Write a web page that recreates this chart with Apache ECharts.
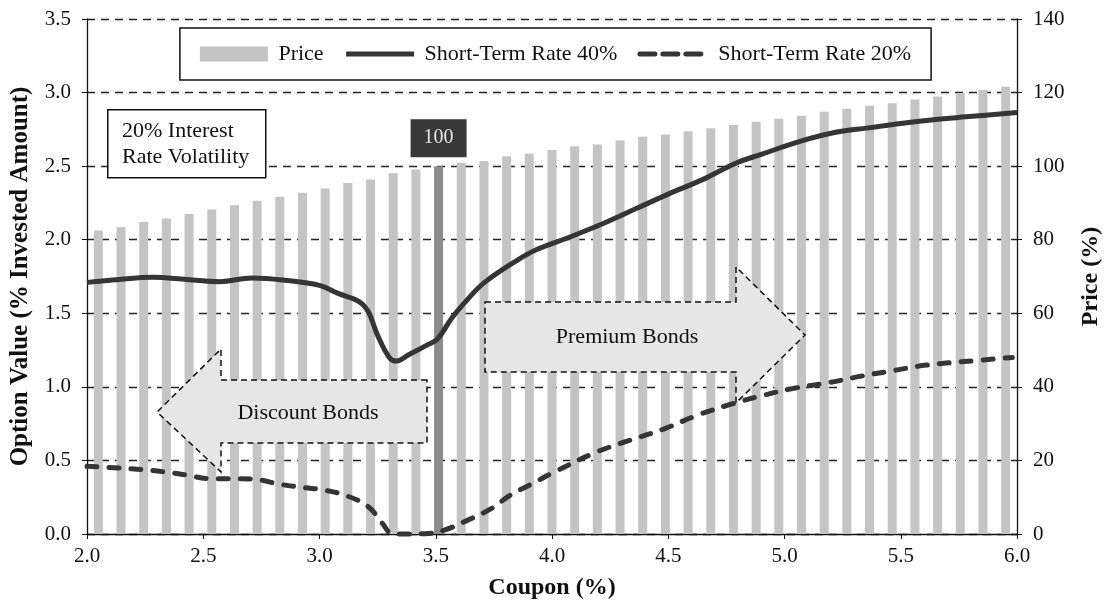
<!DOCTYPE html>
<html><head><meta charset="utf-8">
<script src="https://cdn.jsdelivr.net/npm/echarts@6/dist/echarts.min.js"></script>
<style>html,body{margin:0;padding:0;background:#fff}#c{width:1111px;height:605px}</style>
</head><body><div id="c"></div>
<script>
// ---- data ----
const categories = ['2.0','2.1','2.2','2.3','2.4','2.5','2.6','2.7','2.8','2.9','3.0','3.1','3.2','3.3','3.4','3.5','3.6','3.7','3.8','3.9','4.0','4.1','4.2','4.3','4.4','4.5','4.6','4.7','4.8','4.9','5.0','5.1','5.2','5.3','5.4','5.5','5.6','5.7','5.8','5.9','6.0'];
const price = [82.5,83.4,84.8,85.8,87.0,88.2,89.4,90.6,91.6,92.8,93.9,95.4,96.4,98.1,99.1,100,100.9,101.4,102.7,103.4,104.4,105.4,105.9,107.0,108.0,108.6,109.5,110.3,111.2,112.1,112.9,113.7,114.8,115.6,116.4,117.1,118.1,118.9,119.8,120.7,121.6];
const coupon40 = [2.00,2.14,2.28,2.43,2.57,2.71,2.85,3.00,3.08,3.17,3.21,3.25,3.30,3.33,3.38,3.47,3.51,3.57,3.64,3.71,3.85,3.93,4.08,4.22,4.36,4.50,4.65,4.79,4.90,5.07,5.22,5.36,5.50,5.64,5.78,6.00];
const rate40 = [1.71,1.73,1.745,1.73,1.715,1.74,1.725,1.69,1.635,1.58,1.51,1.35,1.20,1.175,1.215,1.29,1.33,1.47,1.60,1.71,1.86,1.93,2.02,2.11,2.21,2.31,2.41,2.52,2.58,2.67,2.73,2.76,2.79,2.815,2.835,2.865];
const coupon20 = [2.00,2.14,2.24,2.34,2.43,2.53,2.63,2.73,2.83,2.93,3.02,3.12,3.21,3.27,3.31,3.37,3.47,3.54,3.64,3.74,3.82,3.91,4.01,4.19,4.33,4.48,4.62,4.77,4.90,5.04,5.19,5.33,5.47,5.61,5.76,5.98];
const rate20 = [0.46,0.448,0.437,0.421,0.40,0.376,0.376,0.37,0.338,0.316,0.298,0.258,0.185,0.073,0.005,0.0,0.003,0.028,0.096,0.174,0.264,0.338,0.421,0.556,0.635,0.713,0.804,0.882,0.939,0.99,1.028,1.073,1.111,1.148,1.17,1.20];
const seriesNames = ['Price','Short-Term Rate 40%','Short-Term Rate 20%'];
const parPrice = 100;

// ---- chart ----
const FONT = 'Liberation Serif, Times New Roman, serif';
const chart = echarts.init(document.getElementById('c'), null, {renderer:'canvas'});
const parIndex = price.indexOf(parPrice);

const option = {
  animation: false,
  backgroundColor: '#fff',
  textStyle: {fontFamily: FONT, color: '#111'},
  grid: {left: 87, right: 88, top: 19, bottom: 68, containLabel: false},
  legend: {
    data: [
      {name: seriesNames[0], icon: 'rect'},
      {name: seriesNames[1], itemStyle: {opacity: 0}, lineStyle: {width: 5, color: '#353535'}},
      {name: seriesNames[2], itemStyle: {opacity: 0}, lineStyle: {width: 5, color: '#353535', type: [15, 8], cap: 'round'}}
    ],
    top: 28, left: 'center',
    itemWidth: 68, itemHeight: 15, itemGap: 20,
    padding: [15, 20],
    borderColor: '#111', borderWidth: 1.5, backgroundColor: '#fff',
    formatter: n => ' ' + n,
    textStyle: {fontFamily: FONT, fontSize: 22, color: '#111'}
  },
  xAxis: [
    {type: 'value', min: 2, max: 6, interval: 0.5, position: 'bottom',
     name: 'Coupon (%)', nameLocation: 'middle', nameGap: 42,
     nameTextStyle: {fontFamily: FONT, fontSize: 24, fontWeight: 'bold', color: '#111'},
     axisLine: {show: true, lineStyle: {color: '#111', width: 1.3}},
     axisTick: {show: true, inside: false, length: 5, lineStyle: {color: '#111'}},
     axisLabel: {fontFamily: FONT, fontSize: 21, color: '#111', margin: 12, formatter: v => v.toFixed(1)},
     splitLine: {show: false}},
    {type: 'category', data: categories, boundaryGap: true, show: false,
     axisLine: {show: false}, axisTick: {show: false}, axisLabel: {show: false}, splitLine: {show: false}}
  ],
  yAxis: [
    {type: 'value', min: 0, max: 3.5, interval: 0.5, position: 'left',
     name: 'Option Value (% Invested Amount)', nameLocation: 'middle', nameGap: 54, nameRotate: 90,
     nameTextStyle: {fontFamily: FONT, fontSize: 25, fontWeight: 'bold', color: '#111'},
     axisLine: {show: true, lineStyle: {color: '#111', width: 1.3}},
     axisTick: {show: true, length: 5, lineStyle: {color: '#111'}},
     axisLabel: {fontFamily: FONT, fontSize: 21, color: '#111', margin: 16, formatter: v => v.toFixed(1)},
     splitLine: {show: true, lineStyle: {color: '#222', width: 1.3, type: [8, 6]}}},
    {type: 'value', min: 0, max: 140, interval: 20, position: 'right',
     name: 'Price (%)', nameLocation: 'middle', nameGap: 62, nameRotate: 90,
     nameTextStyle: {fontFamily: FONT, fontSize: 24, fontWeight: 'bold', color: '#111'},
     axisLine: {show: true, lineStyle: {color: '#111', width: 1.3}},
     axisTick: {show: true, length: 5, lineStyle: {color: '#111'}},
     axisLabel: {fontFamily: FONT, fontSize: 21, color: '#111', margin: 16},
     splitLine: {show: false}}
  ],
  series: [
    {name: seriesNames[0], type: 'bar', xAxisIndex: 1, yAxisIndex: 1, barWidth: 9, z: 2,
     itemStyle: {color: '#c4c4c4'},
     data: price.map((p, i) => i === parIndex ? {
       value: p,
       itemStyle: {color: '#8c8c8c'},
       label: {show: true, position: 'top', distance: 9, formatter: '{c}',
               fontFamily: FONT, fontSize: 20, color: '#e6e6e6',
               backgroundColor: '#383838', padding: [9, 13]}
     } : p)},
    {name: seriesNames[1], type: 'line', xAxisIndex: 0, yAxisIndex: 0, z: 5, clip: false,
     symbol: 'none', smooth: 0.4,
     lineStyle: {color: '#353535', width: 5},
     itemStyle: {color: '#353535'},
     data: coupon40.map((c, i) => [c, rate40[i]])},
    {name: seriesNames[2], type: 'line', xAxisIndex: 0, yAxisIndex: 0, z: 5, clip: false,
     symbol: 'none', smooth: 0.4,
     lineStyle: {color: '#353535', width: 5, type: [10, 12], cap: 'round'},
     itemStyle: {color: '#353535'},
     data: coupon20.map((c, i) => [c, rate20[i]])}
  ],
  graphic: [
    {type: 'rect', left: 107, top: 109, z: 10,
     shape: {width: 158, height: 68},
     style: {fill: '#fff', stroke: '#111', lineWidth: 1.5}},
    {type: 'text', left: 122, top: 118, z: 11,
     style: {text: '20% Interest\nRate Volatility', font: '22px ' + FONT, lineHeight: 26, fill: '#111'}},
    {type: 'polygon', z: 8,
     shape: {points: [[485,302],[736,302],[736,267],[805,335],[736,403],[736,372],[485,372]]},
     style: {fill: '#e6e6e6', stroke: '#111', lineWidth: 1.5, lineDash: [6, 4]}},
    {type: 'text', z: 9, x: 627, y: 337,
     style: {text: 'Premium Bonds', font: '22px ' + FONT, fill: '#111', align: 'center', verticalAlign: 'middle'}},
    {type: 'polygon', z: 8,
     shape: {points: [[427,380],[221,380],[221,349],[157,412],[221,472],[221,443],[427,443]]},
     style: {fill: '#e6e6e6', stroke: '#111', lineWidth: 1.5, lineDash: [6, 4]}},
    {type: 'text', z: 9, x: 308, y: 413,
     style: {text: 'Discount Bonds', font: '22px ' + FONT, fill: '#111', align: 'center', verticalAlign: 'middle'}}
  ]
};
chart.setOption(option);
</script>
</body></html>
